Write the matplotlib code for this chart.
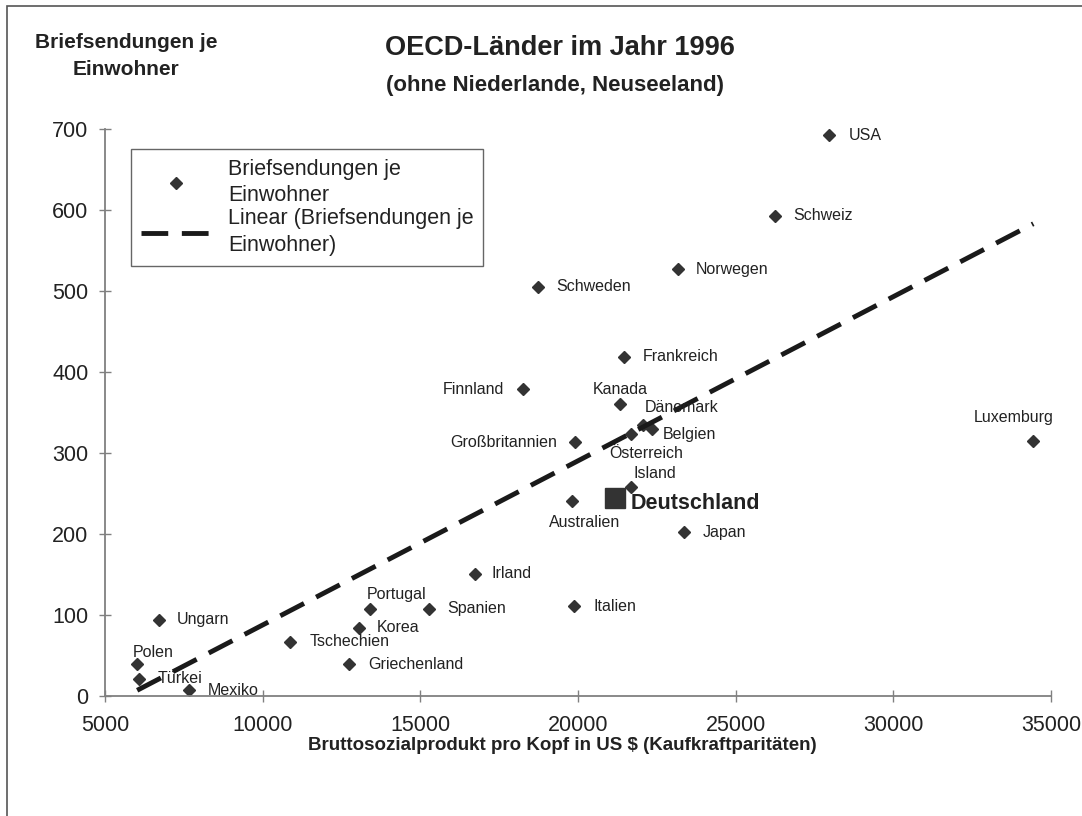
import numpy as np
import matplotlib.pyplot as plt
from matplotlib.lines import Line2D
from matplotlib.patches import Rectangle

plt.rcParams['font.family'] = ['Liberation Sans', 'DejaVu Sans']

# OECD countries 1996: GNP per head (PPP, US $) and letters per inhabitant
countries = ["USA", "Schweiz", "Norwegen", "Schweden", "Frankreich", "Finnland",
             "Kanada", "Dänemark", "Belgien", "Österreich", "Großbritannien",
             "Island", "Australien", "Japan", "Luxemburg", "Irland", "Italien",
             "Spanien", "Portugal", "Korea", "Tschechien", "Griechenland",
             "Ungarn", "Polen", "Türkei", "Mexiko"]
gnp = [27970, 26260, 23170, 18730, 21460, 18240,
       21330, 22050, 22340, 21670, 19920,
       21670, 19810, 23360, 34440, 16730, 19880,
       15270, 13410, 13050, 10880, 12730,
       6710, 6020, 6080, 7660]
letters = [692, 593, 527, 505, 419, 379,
           360, 335, 330, 323, 313,
           258, 241, 202, 315, 151, 111,
           108, 108, 84, 67, 39,
           94, 40, 21, 7]

germany_gnp = 21165
germany_letters = 245

x_ticks = [5000, 10000, 15000, 20000, 25000, 30000, 35000]
y_ticks = [0, 100, 200, 300, 400, 500, 600, 700]

# label placement next to each marker: (dx px, dy px, alignment)
label_pos = {
    "USA": (19, 0, "left"), "Schweiz": (18, 0, "left"),
    "Norwegen": (18, 0, "left"), "Schweden": (18, 0, "left"),
    "Frankreich": (19, 0, "left"), "Finnland": (-18, 0, "right"),
    "Kanada": (0, 15, "center"), "Dänemark": (2, 17, "left"),
    "Belgien": (11, -6, "left"), "Österreich": (16, -19, "center"),
    "Großbritannien": (-18, 0, "right"), "Island": (3, 14, "left"),
    "Australien": (13, -22, "center"), "Japan": (19, 0, "left"),
    "Luxemburg": (-20, 23, "center"), "Irland": (17, 0, "left"),
    "Italien": (19, 0, "left"), "Spanien": (18, 0, "left"),
    "Portugal": (26, 14, "center"), "Korea": (18, 0, "left"),
    "Tschechien": (19, 0, "left"), "Griechenland": (19, 0, "left"),
    "Ungarn": (18, 0, "left"), "Polen": (16, 11, "center"),
    "Türkei": (19, 0, "left"), "Mexiko": (19, 0, "left"),
}

W, H = 1082, 816
fig = plt.figure(figsize=(W / 100, H / 100), dpi=100)
ax = fig.add_axes([105 / W, 1 - 696 / H, 946 / W, 567 / H])

dark = "#333333"
dash = (0, (5.5, 2.8))

ax.plot(gnp, letters, ls="none", marker="D", ms=6, color=dark, zorder=2)
ax.plot([germany_gnp], [germany_letters], ls="none", marker="s", ms=15,
        color=dark, zorder=2)

# linear trend over all points, Germany included
all_x = gnp + [germany_gnp]
all_y = letters + [germany_letters]
coef = np.polyfit(all_x, all_y, 1)
xs = np.array([min(all_x), max(all_x)])
ax.plot(xs, np.polyval(coef, xs), color="#1a1a1a", lw=3.5, ls=dash,
        dash_capstyle="butt", zorder=3)

for name, x, y in zip(countries, gnp, letters):
    dx, dy, ha = label_pos[name]
    ax.annotate(name, (x, y), xytext=(dx, dy), textcoords="offset pixels",
                ha=ha, va="center", fontsize=11.5, color="#222222")
ax.annotate("Deutschland", (germany_gnp, germany_letters), xytext=(16, -6),
            textcoords="offset pixels", ha="left", va="center",
            fontsize=15.5, fontweight="bold", color="#222222")

ax.set_xlim(5000, 35000)
ax.set_ylim(0, 700)
ax.set_xticks(x_ticks)
ax.set_yticks(y_ticks)
for s in ("top", "right"):
    ax.spines[s].set_visible(False)
for s in ("left", "bottom"):
    ax.spines[s].set_color("#808080")
    ax.spines[s].set_linewidth(1.3)
ax.tick_params(axis="both", direction="inout", length=8, width=1,
               color="#808080", labelsize=15.5, labelcolor="#222222")
ax.tick_params(axis="y", pad=8)
ax.tick_params(axis="x", pad=10)
ax.set_facecolor("none")

handles = [Line2D([], [], ls="none", marker="D", ms=6, color=dark),
           Line2D([], [], color="#1a1a1a", lw=3.5, ls=dash,
                  dash_capstyle="butt")]
labels = ["Briefsendungen je\nEinwohner",
          "Linear (Briefsendungen je\nEinwohner)"]
leg = ax.legend(handles, labels, loc="upper left",
                bbox_to_anchor=(131 / W, 1 - 149 / H),
                bbox_transform=fig.transFigure, fontsize=15.5, frameon=True,
                fancybox=False, edgecolor="#666666", framealpha=1,
                borderaxespad=0, handlelength=3.3, labelspacing=0.1,
                borderpad=0.45, handletextpad=0.75)
leg.get_frame().set_linewidth(1)
for t in leg.get_texts():
    t.set_linespacing(1.35)
    t.set_color("#222222")

fig.text(560 / W, 1 - 48 / H, "OECD-Länder im Jahr 1996", ha="center",
         va="center", fontsize=19.5, fontweight="bold", color="#222222")
fig.text(555 / W, 1 - 85 / H, "(ohne Niederlande, Neuseeland)", ha="center",
         va="center", fontsize=16, fontweight="bold", color="#222222")
fig.text(126 / W, 1 - 56 / H, "Briefsendungen je\nEinwohner", ha="center",
         va="center", fontsize=15, fontweight="bold", color="#222222",
         linespacing=1.55)
fig.text(562 / W, 1 - 746 / H,
         "Bruttosozialprodukt pro Kopf in US $ (Kaufkraftparitäten)",
         ha="center", va="center", fontsize=13.5, fontweight="bold",
         color="#222222")

# outer border of the chart area
fig.add_artist(Rectangle((7 / W, -0.05), 1.2, 1 - 6 / H + 0.05, fill=False,
                         ec="#555555", lw=1.2, transform=fig.transFigure))

fig.savefig("out.png", dpi=100)
